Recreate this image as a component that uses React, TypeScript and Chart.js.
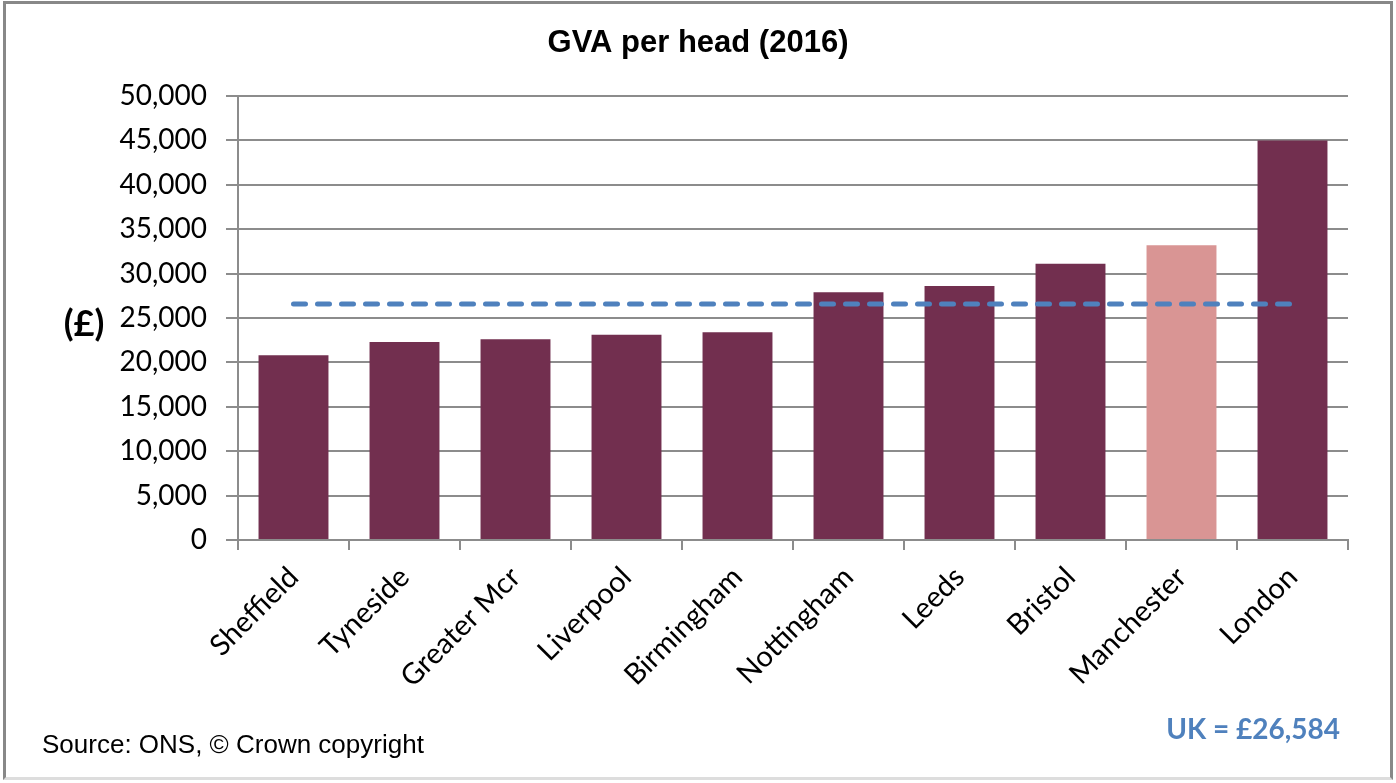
import React, { useEffect, useRef } from "react";
import { Chart, registerables } from "chart.js";

Chart.register(...registerables);

const categories = [
  "Sheffield",
  "Tyneside",
  "Greater Mcr",
  "Liverpool",
  "Birmingham",
  "Nottingham",
  "Leeds",
  "Bristol",
  "Manchester",
  "London",
];
const gvaValues = [20800, 22300, 22600, 23100, 23400, 27900, 28600, 31100, 33200, 45000];
const ukAverage = 26584;
const ukLine = categories.map(() => ukAverage);
const barColors = categories.map((c) => (c === "Manchester" ? "#D99594" : "#722F4F"));

const titleText = "GVA per head (2016)";
const yLabelText = "(£)";
const sourceText = "Source: ONS, © Crown copyright";
const ukText = "UK = £26,584";

const W = 1396;
const H = 783;

const textPlugin = {
  id: "extraText",
  afterDraw(chart: any) {
    const ctx = chart.ctx;
    ctx.save();
    ctx.fillStyle = "#000";
    ctx.textBaseline = "middle";
    ctx.textAlign = "center";
    ctx.font = "bold 31px 'Liberation Sans', Arial, sans-serif";
    ctx.fillText(titleText, W / 2, 43);
    ctx.font = "bold 36px Lato, sans-serif";
    ctx.fillText(yLabelText, 84, 324);
    ctx.textAlign = "left";
    ctx.font = "26px 'Liberation Sans', Arial, sans-serif";
    ctx.fillText(sourceText, 42, 746);
    ctx.textAlign = "right";
    ctx.fillStyle = "#4F81BD";
    ctx.font = "bold 28px Lato, sans-serif";
    ctx.fillText(ukText, 1340, 730);
    ctx.restore();
  },
};

export default function App() {
  const ref = useRef<HTMLCanvasElement>(null);
  useEffect(() => {
    if (!ref.current) return;
    const chart = new Chart(ref.current, {
      type: "bar",
      data: {
        labels: categories,
        datasets: [
          {
            type: "line",
            label: "UK",
            data: ukLine,
            borderColor: "#4F81BD",
            borderWidth: 5,
            borderDash: [12, 12],
            borderCapStyle: "round",
            pointRadius: 0,
            fill: false,
            order: 0,
          } as any,
          {
            type: "bar",
            label: "GVA per head",
            data: gvaValues,
            backgroundColor: barColors,
            borderWidth: 0,
            barPercentage: 0.63,
            categoryPercentage: 1,
            order: 1,
          },
        ],
      },
      options: {
        responsive: false,
        animation: false,
        layout: { padding: { top: 96, right: 48, bottom: 0, left: 0 } },
        plugins: {
          legend: { display: false },
          title: { display: false },
          tooltip: { enabled: false },
        },
        scales: {
          x: {
            grid: {
              offset: true,
              drawOnChartArea: false,
              drawTicks: true,
              tickLength: 10,
              color: "#8C8C8C",
              lineWidth: 2,
            },
            border: { color: "#8C8C8C", width: 2 },
            ticks: {
              color: "#000",
              font: { family: "Lato, sans-serif", size: 29 },
              minRotation: 45,
              maxRotation: 45,
              padding: 10,
              autoSkip: false,
            },
            afterFit(scale: any) {
              scale.height = H - 540;
            },
          },
          y: {
            min: 0,
            max: 50000,
            ticks: {
              stepSize: 5000,
              color: "#000",
              font: { family: "Lato, sans-serif", size: 28 },
              padding: 19,
              callback: (v: any) => Number(v).toLocaleString("en-GB"),
            },
            grid: {
              color: "#8C8C8C",
              lineWidth: 2,
              tickLength: 12,
            },
            border: { color: "#8C8C8C", width: 2 },
            afterFit(scale: any) {
              scale.width = 238;
            },
          },
        },
      },
      plugins: [textPlugin],
    });
    return () => chart.destroy();
  }, []);

  return (
    <div style={{ position: "fixed", left: 0, top: 0, width: W, height: H, background: "#fff" }}>
      <canvas ref={ref} width={W} height={H} style={{ position: "absolute", left: 0, top: 0 }} />
      <div
        style={{
          position: "absolute",
          left: 3,
          top: 1,
          width: 1390,
          height: 779,
          boxSizing: "border-box",
          border: "3px solid #888",
          borderBottomColor: "#ddd",
          pointerEvents: "none",
        }}
      />
    </div>
  );
}
